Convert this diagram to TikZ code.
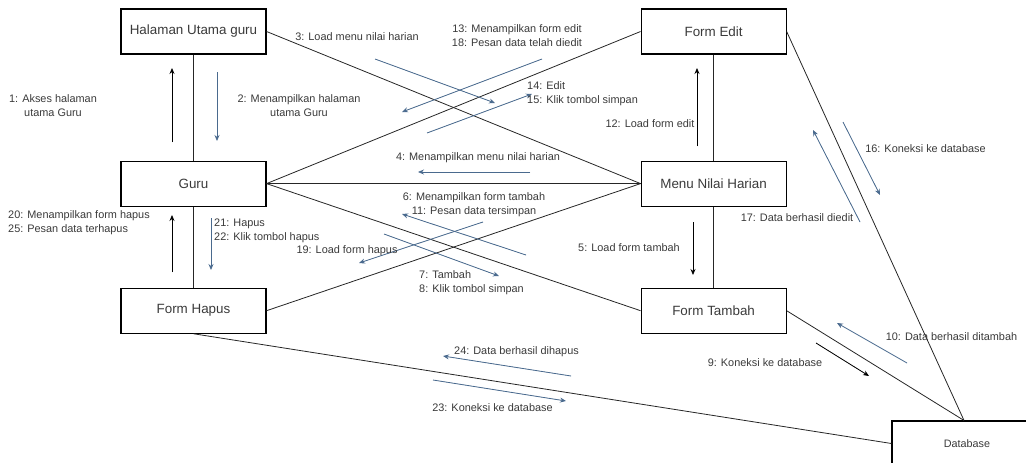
\documentclass[tikz,border=0pt]{standalone}
\usepackage{fontspec}
\setmainfont{Liberation Sans}
\usepackage{xcolor}
\usetikzlibrary{arrows.meta, positioning}
\definecolor{msgblue}{HTML}{4A6A8E}
\definecolor{txtgray}{HTML}{3A3A3A}

\begin{document}
\begin{tikzpicture}[x=1pt, y=-1pt, >={Stealth[length=6pt, width=5pt]}, node distance=106pt and 374pt,
    every node/.style={text=txtgray},
    obj/.style={rectangle, draw=black, line width=1.1pt, minimum width=145pt, minimum height=45pt, font=\fontsize{13.4}{16}\selectfont},
    link/.style={draw=black!85, line width=0.8pt},
    msg/.style={->, line width=0.8pt, draw=msgblue, fill=msgblue},
    msgk/.style={->, line width=0.8pt, draw=black, fill=black},
    lbl/.style={font=\fontsize{10.9}{14}\selectfont, inner sep=0pt, align=center},
]
\useasboundingbox (0,0) rectangle (1026,463);

% Objects
\node[obj] (halaman) at (193.5,31.5) {Halaman Utama guru};
\node[obj, below=of halaman] (guru) {Guru};
\node[obj, below=81pt of guru] (hapus) {Form Hapus};
\node[obj, right=of halaman] (edit) {Form Edit};
\node[obj, right=of guru] (menu) {Menu Nilai Harian};
\node[obj, right=of hapus] (tambah) {Form Tambah};
\node[obj, minimum width=150pt, font=\fontsize{10.8}{13}\selectfont] (db) at (967,443.5) {Database};

% Links
\draw[link] (halaman) -- (guru);
\draw[link] (guru) -- (hapus);
\draw[link] (edit) -- (menu);
\draw[link] (menu) -- (tambah);
\draw[link] (halaman.east) -- (menu.west);
\draw[link] (guru.east) -- (edit.west);
\draw[link] (guru.east) -- (menu.west);
\draw[link] (guru.east) -- (tambah.west);
\draw[link] (hapus.east) -- (menu.west);
\draw[link] (edit.east) -- ([xshift=-3pt]db.north);
\draw[link] (tambah.east) -- ([xshift=-3pt]db.north);
\draw[link] (hapus.south) -- (db.west);

% Messages
\coordinate (m1s) at (172,142); \coordinate (m1e) at (172,68);
\draw[msgk] (m1s) -- (m1e);
\node[lbl] (l1) at (53,106) {1: Akses halaman\\utama Guru};

\coordinate (m2s) at (217,72); \coordinate (m2e) at (217,141);
\draw[msg] (m2s) -- (m2e);
\node[lbl] (l2) at (299,106) {2: Menampilkan halaman\\utama Guru};

\coordinate (m3s) at (375,59); \coordinate (m3e) at (495,103);
\draw[msg] (m3s) -- (m3e);
\node[lbl] (l3) at (357,37) {3: Load menu nilai harian};

\coordinate (m4s) at (530,172); \coordinate (m4e) at (418,172);
\draw[msg] (m4s) -- (m4e);
\node[lbl] (l4) at (478,158) {4: Menampilkan menu nilai harian};

\coordinate (m5s) at (693,222); \coordinate (m5e) at (693,275);
\draw[msgk] (m5s) -- (m5e);
\node[lbl] (l5) at (629,248) {5: Load form tambah};

\coordinate (m6s) at (526,255); \coordinate (m6e) at (402,214);
\draw[msg] (m6s) -- (m6e);
\node[lbl] (l6) at (474,204.5) {6: Menampilkan form tambah\\11: Pesan data tersimpan};

\coordinate (m7s) at (384,234); \coordinate (m7e) at (499,276);
\draw[msg] (m7s) -- (m7e);
\node[lbl, anchor=west, align=left] (l7) at (419,283) {7: Tambah\\8: Klik tombol simpan};

\coordinate (m9s) at (816,343); \coordinate (m9e) at (869,376);
\draw[msgk] (m9s) -- (m9e);
\node[lbl] (l9) at (765,363) {9: Koneksi ke database};

\coordinate (m10s) at (907,363); \coordinate (m10e) at (837,323);
\draw[msg] (m10s) -- (m10e);
\node[lbl] (l10) at (951.5,337) {10: Data berhasil ditambah};

\coordinate (m12s) at (697,146); \coordinate (m12e) at (697,68);
\draw[msgk] (m12s) -- (m12e);
\node[lbl] (l12) at (650,124) {12: Load form edit};

\coordinate (m13s) at (542,59); \coordinate (m13e) at (402,112);
\draw[msg] (m13s) -- (m13e);
\node[lbl] (l13) at (517,36) {13: Menampilkan form edit\\18: Pesan data telah diedit};

\coordinate (m14s) at (427,133); \coordinate (m14e) at (532,94);
\draw[msg] (m14s) -- (m14e);
\node[lbl, anchor=west, align=left] (l14) at (527,93.5) {14: Edit\\15: Klik tombol simpan};

\coordinate (m16s) at (843,122); \coordinate (m16e) at (880,195);
\draw[msg] (m16s) -- (m16e);
\node[lbl] (l16) at (925.5,149) {16: Koneksi ke database};

\coordinate (m17s) at (860,222); \coordinate (m17e) at (813,130);
\draw[msg] (m17s) -- (m17e);
\node[lbl] (l17) at (797,218) {17: Data berhasil diedit};

\coordinate (m19s) at (483,222); \coordinate (m19e) at (359,263);
\draw[msg] (m19s) -- (m19e);
\node[lbl] (l19) at (347,251) {19: Load form hapus};

\coordinate (m20s) at (172,272); \coordinate (m20e) at (172,215);
\draw[msgk] (m20s) -- (m20e);
\node[lbl, anchor=west, align=left] (l20) at (8,223) {20: Menampilkan form hapus\\25: Pesan data terhapus};

\coordinate (m21s) at (211,218); \coordinate (m21e) at (211,270);
\draw[msg] (m21s) -- (m21e);
\node[lbl, anchor=west, align=left] (l21) at (214,231) {21: Hapus\\22: Klik tombol hapus};

\coordinate (m23s) at (433,380); \coordinate (m23e) at (566,401);
\draw[msg] (m23s) -- (m23e);
\node[lbl] (l23) at (492.5,408) {23: Koneksi ke database};

\coordinate (m24s) at (571,376); \coordinate (m24e) at (443,356);
\draw[msg] (m24s) -- (m24e);
\node[lbl] (l24) at (516.5,352) {24: Data berhasil dihapus};

\end{tikzpicture}
\end{document}
